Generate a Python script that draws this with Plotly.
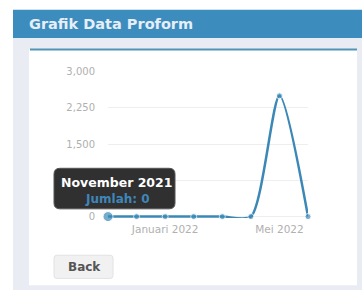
import plotly.graph_objects as go

months = ["November 2021", "Desember 2021", "Januari 2022", "Februari 2022",
          "Maret 2022", "April 2022", "Mei 2022", "Juni 2022"]
jumlah = [0, 0, 0, 0, 0, 0, 2500, 0]
y_ticks = [0, 750, 1500, 2250, 3000]
y_tick_labels = ["0", "", "1,500", "2,250", "3,000"]
x_tick_labels = ["Januari 2022", "Mei 2022"]
title_text = "Grafik Data Proform"
tooltip_title = "November 2021"
tooltip_body = "Jumlah: 0"
button_text = "Back"

W, H = 362, 294
LINE = "#3b88b6"
FONT = "DejaVu Sans"


def px(x):
    return x / W


def py(y):
    return 1 - y / H


def rounded_rect(x0, y0, x1, y1, r):
    rx, ry = r / W, r / H
    X0, X1 = px(x0), px(x1)
    Y0, Y1 = py(y1), py(y0)
    return (f"M {X0+rx},{Y0} L {X1-rx},{Y0} Q {X1},{Y0} {X1},{Y0+ry} "
            f"L {X1},{Y1-ry} Q {X1},{Y1} {X1-rx},{Y1} L {X0+rx},{Y1} "
            f"Q {X0},{Y1} {X0},{Y1-ry} L {X0},{Y0+ry} Q {X0},{Y0} {X0+rx},{Y0} Z")


fig = go.Figure()
fig.add_trace(go.Scatter(
    x=months, y=jumlah, mode="lines",
    line=dict(color=LINE, width=2.5, shape="spline", smoothing=0.7),
    cliponaxis=True, hoverinfo="skip",
))
sizes = [10] + [6] * (len(months) - 1)
fig.add_trace(go.Scatter(
    x=months, y=jumlah, mode="markers",
    marker=dict(color=LINE, size=sizes),
    cliponaxis=False, hoverinfo="skip",
))

shapes = [
    dict(type="rect", xref="paper", yref="paper", x0=px(13), x1=px(362), y0=py(294), y1=py(33),
         fillcolor="#e9ecf2", line=dict(width=0), layer="below"),
    dict(type="rect", xref="paper", yref="paper", x0=px(13), x1=px(362), y0=py(33), y1=py(4),
         fillcolor="#3d8cbe", line=dict(width=0), layer="below"),
    dict(type="rect", xref="paper", yref="paper", x0=px(29), x1=px(357), y0=py(289), y1=py(45),
         fillcolor="#ffffff", line=dict(width=0), layer="below"),
    dict(type="line", xref="paper", yref="paper", x0=px(30), x1=px(357), y0=py(45), y1=py(45),
         line=dict(color="#5095b6", width=2), layer="below"),
    dict(type="path", xref="paper", yref="paper", path=rounded_rect(54, 258, 113, 282, 3),
         fillcolor="#f1f1f1", line=dict(color="#e2e2e2", width=1), layer="below"),
    dict(type="path", xref="paper", yref="paper", path=rounded_rect(54, 168, 175, 210, 6),
         fillcolor="rgba(30,30,30,0.92)", line=dict(color="#555", width=1), layer="above"),
]

annotations = [
    dict(text=title_text, x=px(27), y=py(19), xref="paper", yref="paper",
         xanchor="left", yanchor="middle", showarrow=False,
         font=dict(family=FONT, size=14.5, color="#e6eff7", weight=700)),
    dict(text=button_text, x=px(84), y=py(270), xref="paper", yref="paper",
         xanchor="center", yanchor="middle", showarrow=False,
         font=dict(family=FONT, size=12, color="#555555", weight=700)),
    dict(text=tooltip_title, x=px(116), y=py(183), xref="paper", yref="paper",
         xanchor="center", yanchor="middle", showarrow=False,
         font=dict(family=FONT, size=12.5, color="#ffffff", weight=700)),
    dict(text=tooltip_body, x=px(117), y=py(200), xref="paper", yref="paper",
         xanchor="center", yanchor="middle", showarrow=False,
         font=dict(family=FONT, size=12, color="#3f86b8", weight=700)),
]

fig.update_layout(
    width=W, height=H, margin=dict(l=0, r=0, t=0, b=0),
    paper_bgcolor="#ffffff", plot_bgcolor="rgba(0,0,0,0)",
    showlegend=False, shapes=shapes, annotations=annotations,
    xaxis=dict(domain=[px(108), px(308)], range=[0, len(months) - 1],
               type="category", tickmode="array", tickvals=x_tick_labels,
               ticktext=x_tick_labels, showgrid=False, zeroline=False,
               showline=False, ticks="", ticklabelstandoff=3,
               tickfont=dict(family=FONT, size=10.5, color="#b0b0b0")),
    yaxis=dict(domain=[py(219.5), py(68)], range=[-30, 3000],
               tickmode="array", tickvals=y_ticks, ticktext=y_tick_labels,
               showgrid=True, gridcolor="#eeeeee", gridwidth=1,
               zeroline=False, showline=False, ticks="", ticklabelstandoff=12,
               tickfont=dict(family=FONT, size=10, color="#b0b0b0")),
)

fig.write_html("out.html", config={"displayModeBar": False},
               post_script="document.body.style.margin='0px';")
